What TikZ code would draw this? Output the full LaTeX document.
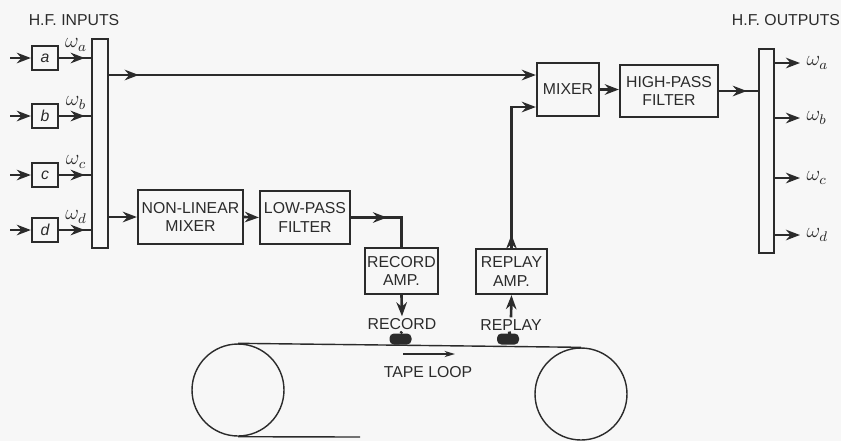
\documentclass[tikz,border=0pt]{standalone}
\usepackage{fontspec}
\setmainfont{Liberation Sans}
\usepackage{tikz}
\usetikzlibrary{arrows.meta,positioning,calc,decorations.markings}
\definecolor{ink}{HTML}{2B2B2B}
\definecolor{paper}{HTML}{F7F7F7}
\tikzset{
    every picture/.style={>={Stealth[length=8pt,width=6pt]}},
    % boxes and bus bars
    block/.style={rectangle,draw=ink,line width=1.3pt,fill=paper,inner sep=1pt,align=center,text=ink,font=\fontsize{9}{10.5}\selectfont},
    inbox/.style={block,minimum width=0.52cm,minimum height=0.48cm,font=\fontsize{9}{10}\selectfont\itshape},
    bus/.style={rectangle,draw=ink,line width=1.3pt,fill=paper,minimum width=0.31cm},
    % signal lines
    sig/.style={->,ink,line width=1.5pt},
    wire/.style={ink,line width=1.5pt},
    midarrow/.style={postaction={decorate},decoration={markings,mark=at position #1 with {\arrow{Stealth[length=8pt,width=6pt]}}}},
    % labels
    tag/.style={font=\fontsize{9}{10}\selectfont,text=ink,inner sep=1pt},
    freq/.style={font=\fontsize{12}{13}\selectfont,text=ink,inner sep=1pt},
    % tape transport
    reel/.style={circle,draw=ink,line width=0.8pt,minimum size=1.84cm,inner sep=0pt},
    tape/.style={ink,line width=0.8pt},
    head/.style={rectangle,fill=ink,rounded corners=2.5pt,minimum width=0.44cm,minimum height=0.22cm,inner sep=0pt}
}

\begin{document}
\begin{tikzpicture}[x=0.02cm,y=-0.02cm]
    \fill[paper] (0,0) rectangle (841,441);
    \useasboundingbox (0,0) rectangle (841,441);

    % Input side
    \node[tag] (hfin) at (74,20) {H.F. INPUTS};
    \node[bus,minimum height=4.18cm] (bin) at (100,143.5) {};
    \foreach \n/\y in {a/58,b/116,c/175,d/230} {
        \node[inbox] (\n) at (45,\y) {\n};
        \coordinate (in\n) at (10,\y);
        \draw[sig] (in\n) -- (\n);
        \draw[wire,midarrow=0.8] (\n.east) -- (bin.west |- \n.east);
        \node[freq] (w\n) at (76,\y-13) {$\omega_\n$};
    }

    % Record chain
    \node[block,minimum width=2.1cm,minimum height=1.08cm] (nlm) at (190.5,217) {NON-LINEAR\\MIXER};
    \node[block,minimum width=1.8cm,minimum height=1.06cm] (lpf) at (305,217.5) {LOW-PASS\\FILTER};
    \node[block,minimum width=1.46cm,minimum height=0.92cm] (rca) at (401.5,271) {RECORD\\AMP.};
    \draw[sig] (bin.east |- nlm.west) -- (nlm.west);
    \draw[sig] (nlm.east) -- (lpf.west);
    \draw[wire,midarrow=0.45] (lpf.east) -| (rca.north);

    % Replay chain and mixer
    \node[block,minimum width=1.42cm,minimum height=0.9cm] (rpa) at (511.5,271.5) {REPLAY\\AMP.};
    \node[block,minimum width=1.24cm,minimum height=1.06cm] (mix) at (568,89.5) {MIXER};
    \node[block,minimum width=1.96cm,minimum height=1.04cm] (hpf) at (669,91) {HIGH-PASS\\FILTER};
    \coordinate (hf) at (0,75);
    \coordinate (rp) at (0,107);
    \draw[sig,midarrow=0.07] (bin.east |- hf) -- (mix.west |- hf);
    \draw[sig,midarrow=0.08] (rpa.north) |- (mix.west |- rp);
    \draw[sig] (mix.east) -- (mix.east -| hpf.west);

    % Output side
    \node[tag] (hfout) at (786,20) {H.F. OUTPUTS};
    \node[bus,minimum height=4.08cm] (bout) at (766.5,151) {};
    \draw[wire,midarrow=0.72] (hpf.east) -- (bout.west |- hpf.east);
    \foreach \n/\y in {a/63,b/118,c/178,d/235} {
        \coordinate (out\n) at (800,\y);
        \draw[sig] (bout.east |- out\n) -- (out\n) node[freq,right=2pt] (v\n) {$\omega_\n$};
    }

    % Heads
    \node[tag] (rec) at (402,324) {RECORD};
    \node[tag] (rpl) at (511,325) {REPLAY};
    \node[head] (rech) at (400.5,339) {};
    \node[head] (rplh) at (508,339) {};
    \draw[sig] (rca.south) -- (rec.north);
    \draw[wire] (rech.north) -- (rec.south);
    \draw[sig] (rpl.north) -- (rpa.south);
    \draw[wire] (rplh.north) -- (rpl.south);

    % Tape loop
    \node[reel] (lreel) at (238,390) {};
    \node[reel] (rreel) at (581,394) {};
    \coordinate (tend) at (360,437);
    \draw[tape] (lreel.north) -- (rreel.north);
    \draw[tape] (lreel.south) -- (tend);
    \coordinate (tp1) at (403,354);
    \coordinate (tp2) at (455,354);
    \draw[tape,->,>={Stealth[length=6pt,width=3.5pt]}] (tp1) -- (tp2);
    \node[tag] (tl) at (428,372) {TAPE LOOP};
\end{tikzpicture}
\end{document}
